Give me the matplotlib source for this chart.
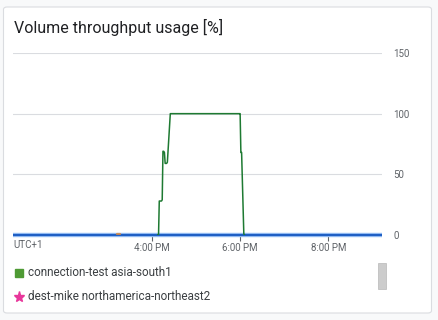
import numpy as np
import pandas as pd
import matplotlib.pyplot as plt
from matplotlib.patches import FancyBboxPatch, Rectangle
from matplotlib.lines import Line2D

plt.rcParams['font.family'] = ['Roboto', 'DejaVu Sans']

# -----------------------------
# DATA
# -----------------------------
day = "2024-01-01 "
green_times = ["16:08", "16:09", "16:10", "16:13", "16:14", "16:15", "16:16",
               "16:17", "16:18", "16:20", "16:21", "16:25", "16:26",
               "17:59", "18:00", "18:01", "18:02", "18:05", "18:06"]
green_values = [0, 0, 28, 28, 29, 69, 69, 68, 59, 59, 60, 100, 100,
                100, 100, 68, 68, 1, 0]

blue_times = ["12:51", "21:13"]
blue_values = [0, 0]

orange_times = ["15:12", "15:16"]
orange_values = [1.2, 1.2]

x_start, x_end = "12:51", "21:13"
tick_times = ["16:00", "18:00", "20:00"]
tick_labels = ["4:00 PM", "6:00 PM", "8:00 PM"]
y_ticks = [0, 50, 100, 150]

legend_names = ["connection-test asia-south1", "dest-mike northamerica-northeast2"]
legend_colors = ["#4e9a34", "#e8379b"]


def to_dt(times):
    return pd.to_datetime([day + t for t in times])


# -----------------------------
# FIGURE / CARD
# -----------------------------
fig = plt.figure(figsize=(4.39, 3.2), dpi=100)
fig.patch.set_facecolor("#f8f9fa")

card = FancyBboxPatch((3.5 / 439, 1 - 313 / 320), 428 / 439, 306 / 320,
                      boxstyle="round,pad=0,rounding_size=0.008",
                      transform=fig.transFigure, facecolor="white",
                      edgecolor="#dadce0", linewidth=0.8, zorder=-10)
fig.patches.append(card)

fig.text(14 / 439, 1 - 27 / 320, "Volume throughput usage [%]",
         fontsize=11.5, color="#202124", va="center", ha="left")

ax = fig.add_axes([13 / 439, 1 - 235 / 320, 369 / 439, 182 / 320])
ax.set_facecolor("none")

# -----------------------------
# LINES
# -----------------------------
ax.plot(to_dt(blue_times), blue_values, color="#9ec5f7", lw=3.2,
        solid_capstyle="butt", zorder=2, clip_on=False)
ax.plot(to_dt(blue_times), blue_values, color="#1f5fc4", lw=1.6,
        solid_capstyle="butt", zorder=3, clip_on=False)
ax.plot(to_dt(orange_times), orange_values, color="#d9893f", lw=1.6,
        alpha=0.85, zorder=5, solid_capstyle="round")
ax.plot(to_dt(green_times), green_values, color="#1e7a32", lw=1.1, zorder=4)

# -----------------------------
# AXES STYLE
# -----------------------------
ax.set_xlim(to_dt([x_start])[0], to_dt([x_end])[0])
ax.set_ylim(0, 150)
ax.set_yticks(y_ticks)
ax.yaxis.tick_right()
ax.tick_params(axis="y", length=0, pad=8, labelsize=7, labelcolor="#5f6368")
ax.grid(axis="y", color="#dadce0", lw=0.8)
ax.set_xticks(to_dt(tick_times))
ax.set_xticklabels(tick_labels)
ax.tick_params(axis="x", length=4, width=0.8, color="#5f6368", pad=1.5,
               labelsize=7, labelcolor="#5f6368")
for s in ax.spines.values():
    s.set_visible(False)

fig.text(13 / 439, 1 - 245 / 320, "UTC+1", fontsize=7, color="#5f6368",
         va="center", ha="left")

# -----------------------------
# LEGEND
# -----------------------------
fig.add_artist(Line2D([19 / 439], [1 - 273 / 320], marker="s", markersize=5.5,
                      color=legend_colors[0], linestyle="none",
                      transform=fig.transFigure))
fig.add_artist(Line2D([19 / 439], [1 - 297 / 320], marker="*", markersize=8,
                      color=legend_colors[1], linestyle="none",
                      transform=fig.transFigure))
fig.text(28 / 439, 1 - 273 / 320, legend_names[0], fontsize=8.5,
         color="#3c4043", va="center", ha="left")
fig.text(28 / 439, 1 - 297 / 320, legend_names[1], fontsize=8.5,
         color="#3c4043", va="center", ha="left")

fig.patches.append(Rectangle((378 / 439, 1 - 289 / 320), 8 / 439, 26 / 320,
                             transform=fig.transFigure, facecolor="#cccccc",
                             edgecolor="#b8b8b8", linewidth=0.5))

fig.savefig("out.png", dpi=100, facecolor=fig.get_facecolor())
